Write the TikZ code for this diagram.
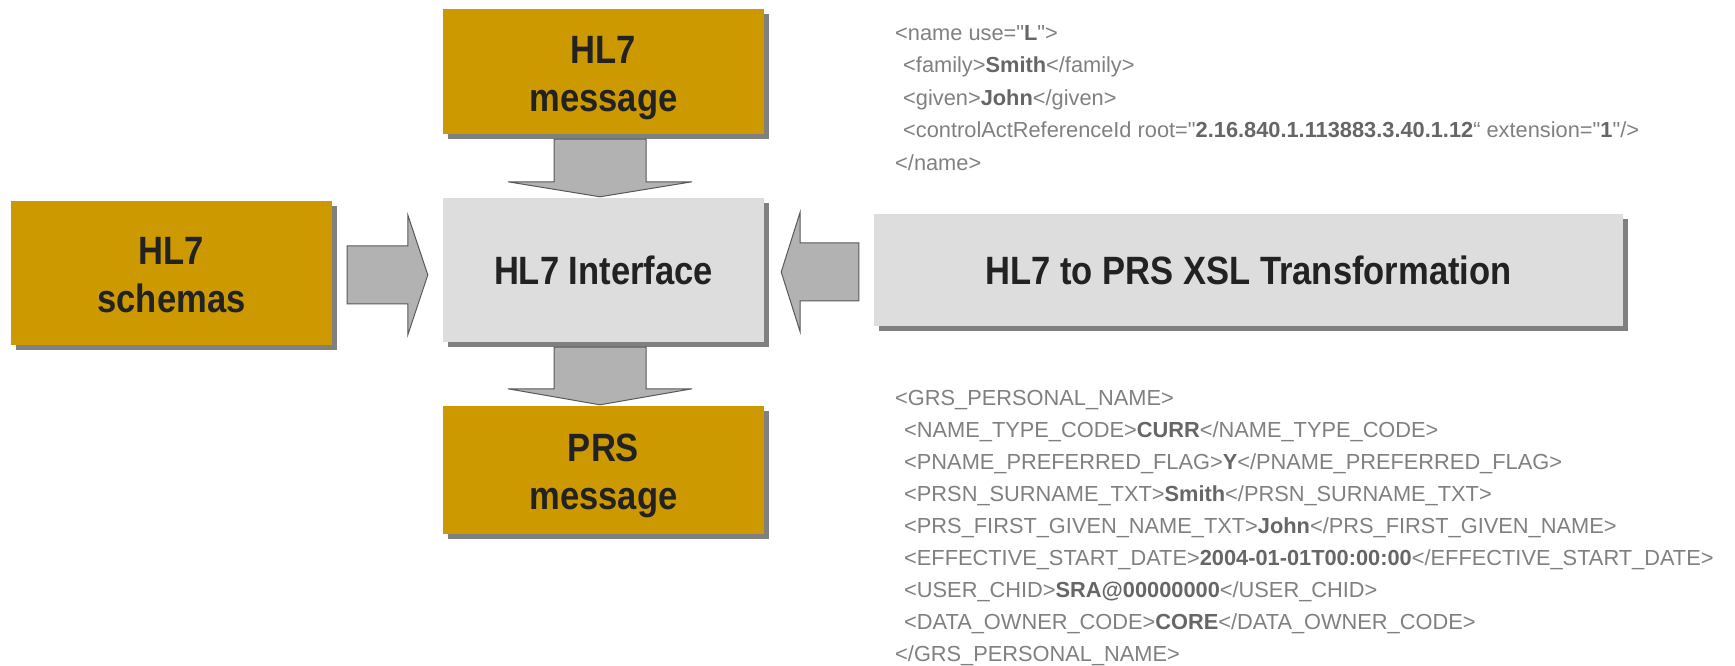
\documentclass[tikz,border=0pt]{standalone}
\usepackage{fontspec}
\setmainfont{Liberation Sans}[Ligatures=TeXOff]
\newfontfamily\boxfont{Liberation Sans}[FakeStretch=0.875]
\usetikzlibrary{calc,shadows}
\definecolor{gold}{HTML}{CC9900}
\definecolor{lightbox}{HTML}{DDDDDD}
\definecolor{shadowgray}{HTML}{808080}
\definecolor{arrowfill}{HTML}{B2B2B2}
\definecolor{arrowline}{HTML}{595959}
\definecolor{codegray}{HTML}{808080}
\definecolor{codebold}{HTML}{666666}
\definecolor{boxtext}{HTML}{222222}
\newcommand{\cb}[1]{\textcolor{codebold}{\bfseries #1}}
\newcommand{\twolines}[2]{\raisebox{0pt}[32pt][0pt]{#1}\\\smash{#2}}
\begin{document}
\begin{tikzpicture}[x=1pt,y=1pt,
  box/.style={rectangle, inner sep=0pt, minimum width=321pt, align=center,
    text=boxtext, font=\boxfont\bfseries\fontsize{39.5}{48}\selectfont,
    drop shadow={shadow xshift=5pt, shadow yshift=-5pt, fill=shadowgray, opacity=1}},
  goldbox/.style={box, fill=gold},
  greybox/.style={box, fill=lightbox},
  barrow/.style={fill=arrowfill, draw=arrowline, line width=1pt, line join=miter},
  code/.style={anchor=base west, inner sep=0pt, text=codegray,
    font=\fontsize{21.8}{28}\selectfont},
]
\useasboundingbox (0,0) rectangle (1735,666);

% boxes
\node[goldbox, minimum height=125pt] (msg) at (603.5,594.5) {\twolines{HL7}{message}};
\node[goldbox, minimum height=144pt] (schemas) at (171.5,393) {\twolines{HL7}{schemas}};
\node[greybox, minimum height=144pt] (iface) at (603.5,396) {HL7 Interface};
\node[goldbox, minimum height=128pt] (prs) at (603.5,196) {\twolines{PRS}{message}};
\node[greybox, minimum width=749pt, minimum height=112pt] (xsl) at (1248.5,396) {HL7 to PRS XSL Transformation};

% block arrows
\draw[barrow] let \p1=($(msg.south)+(-3.5,-5)$), \p2=($(iface.north)+(-3.5,1)$) in
  (\x1-46,\y1) -- (\x1+46,\y1) -- (\x1+46,\y2+15) -- (\x1+92,\y2+15) -- (\x1,\y2)
  -- (\x1-92,\y2+15) -- (\x1-46,\y2+15) -- cycle;
\draw[barrow] let \p1=($(iface.south)+(-3.5,-5)$), \p2=($(prs.north)+(-3.5,1)$) in
  (\x1-46,\y1) -- (\x1+46,\y1) -- (\x1+46,\y2+16) -- (\x1+92,\y2+16) -- (\x1,\y2)
  -- (\x1-92,\y2+16) -- (\x1-46,\y2+16) -- cycle;
\draw[barrow] let \p1=($(schemas.east)+(15,-2)$), \p2=($(iface.west)+(-15,0)$) in
  (\x1,\y1+29) -- (\x2-20,\y1+29) -- (\x2-20,\y1+60) -- (\x2,\y1)
  -- (\x2-20,\y1-60) -- (\x2-20,\y1-29) -- (\x1,\y1-29) -- cycle;
\draw[barrow] let \p1=($(xsl.west)+(-15,-2)$), \p2=($(iface.east)+(17,0)$) in
  (\x1,\y1+29) -- (\x2+19,\y1+29) -- (\x2+19,\y1+60) -- (\x2,\y1)
  -- (\x2+19,\y1-60) -- (\x2+19,\y1-29) -- (\x1,\y1-29) -- cycle;

% HL7 XML sample
\node[code] (h1) at (895,625.5) {<name use="\cb{L}">};
\node[code] (h2) at (903,593) {<family>\cb{Smith}</family>};
\node[code] (h3) at (903,560.5) {<given>\cb{John}</given>};
\node[code] (h4) at (903,528) {<controlActReferenceId root="\cb{2.16.840.1.113883.3.40.1.12}“ extension="\cb{1}"/>};
\node[code] (h5) at (895,495.5) {</name>};

% PRS XML sample
\node[code] (p1) at (895,260) {<GRS\_PERSONAL\_NAME>};
\node[code] (p2) at (904,228) {<NAME\_TYPE\_CODE>\cb{CURR}</NAME\_TYPE\_CODE>};
\node[code] (p3) at (904,196) {<PNAME\_PREFERRED\_FLAG>\cb{Y}</PNAME\_PREFERRED\_FLAG>};
\node[code] (p4) at (904,164) {<PRSN\_SURNAME\_TXT>\cb{Smith}</PRSN\_SURNAME\_TXT>};
\node[code] (p5) at (904,132) {<PRS\_FIRST\_GIVEN\_NAME\_TXT>\cb{John}</PRS\_FIRST\_GIVEN\_NAME>};
\node[code] (p6) at (904,100) {<EFFECTIVE\_START\_DATE>\cb{2004-01-01T00:00:00}</EFFECTIVE\_START\_DATE>};
\node[code] (p7) at (904,68) {<USER\_CHID>\cb{SRA@00000000}</USER\_CHID>};
\node[code] (p8) at (904,36) {<DATA\_OWNER\_CODE>\cb{CORE}</DATA\_OWNER\_CODE>};
\node[code] (p9) at (895,4) {</GRS\_PERSONAL\_NAME>};
\end{tikzpicture}
\end{document}
